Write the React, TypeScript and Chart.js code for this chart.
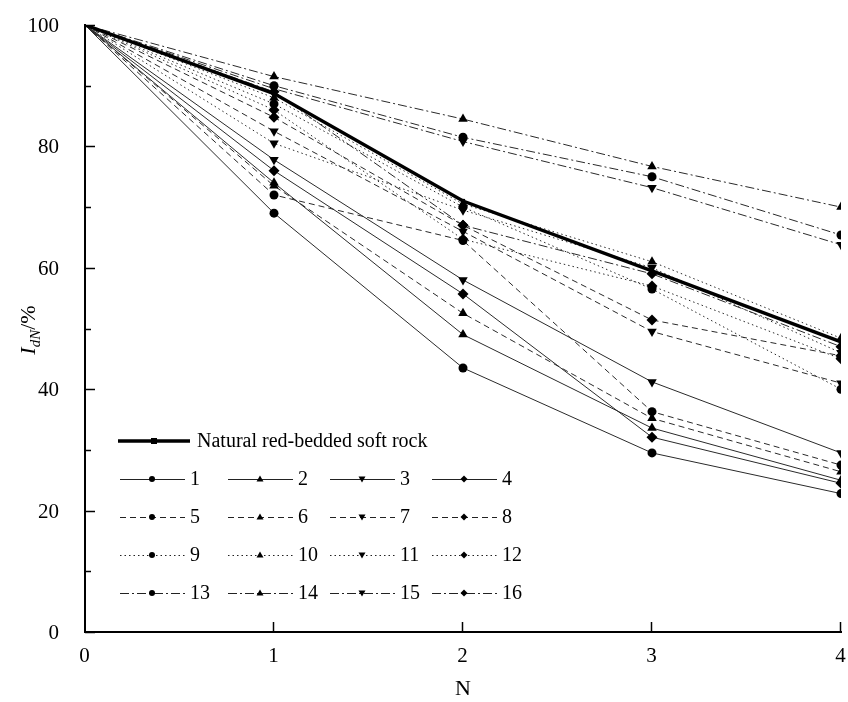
import React, { useEffect, useRef } from "react";
import { Chart, registerables } from "chart.js";
Chart.register(...registerables);

const cycles = [0, 1, 2, 3, 4];
const natural = [100, 88.7, 71, 59.5, 47.8];
const s1 = [100, 69, 43.5, 29.5, 22.8];
const s2 = [100, 74, 49, 33.6, 25];
const s3 = [100, 77.8, 58, 41.2, 29.5];
const s4 = [100, 76, 55.7, 32.1, 24.5];
const s5 = [100, 72, 64.5, 36.3, 27.5];
const s6 = [100, 73.5, 52.5, 35.2, 26.4];
const s7 = [100, 82.5, 66, 49.5, 41];
const s8 = [100, 84.8, 67, 51.4, 45.5];
const s9 = [100, 87, 70, 56.5, 40];
const s10 = [100, 88, 70.5, 61, 48.4];
const s11 = [100, 80.5, 69.5, 60, 46];
const s12 = [100, 86, 64.7, 57, 45];
const s13 = [100, 90, 81.5, 75, 65.4];
const s14 = [100, 91.5, 84.5, 76.7, 70];
const s15 = [100, 89.5, 80.8, 73.2, 63.8];
const s16 = [100, 89, 67, 59, 47];
const seriesValues = [s1, s2, s3, s4, s5, s6, s7, s8, s9, s10, s11, s12, s13, s14, s15, s16];
const seriesLabels = ["1", "2", "3", "4", "5", "6", "7", "8", "9", "10", "11", "12", "13", "14", "15", "16"];
const naturalLabel = "Natural red-bedded soft rock";
const yTickValues = [0, 20, 40, 60, 80, 100];
const yMinorValues = [10, 30, 50, 70, 90];
const xTickValues = [0, 1, 2, 3, 4];

const FONT = '"Liberation Serif", "DejaVu Serif", serif';
const dashes: number[][] = [[], [6, 4], [1.5, 3], [9, 3, 2, 3]];
const markers = ["circle", "up", "down", "diamond"];

function drawMarker(ctx: CanvasRenderingContext2D, kind: string, x: number, y: number, r: number) {
  ctx.beginPath();
  if (kind === "circle") {
    ctx.arc(x, y, r, 0, Math.PI * 2);
  } else if (kind === "up") {
    ctx.moveTo(x, y - r);
    ctx.lineTo(x + r, y + r * 0.7);
    ctx.lineTo(x - r, y + r * 0.7);
    ctx.closePath();
  } else if (kind === "down") {
    ctx.moveTo(x, y + r);
    ctx.lineTo(x + r, y - r * 0.7);
    ctx.lineTo(x - r, y - r * 0.7);
    ctx.closePath();
  } else if (kind === "diamond") {
    ctx.moveTo(x, y - r);
    ctx.lineTo(x + r, y);
    ctx.lineTo(x, y + r);
    ctx.lineTo(x - r, y);
    ctx.closePath();
  } else {
    ctx.rect(x - r, y - r, 2 * r, 2 * r);
  }
  ctx.fill();
}

const overlayPlugin = {
  id: "overlay",
  afterDraw(chart: any) {
    const ctx: CanvasRenderingContext2D = chart.ctx;
    const xs = chart.scales.x;
    const ys = chart.scales.y;
    const area = chart.chartArea;
    ctx.save();
    ctx.strokeStyle = "#000";
    ctx.lineWidth = 1.5;
    ctx.setLineDash([]);
    ctx.fillStyle = "#000";
    ctx.font = `21px ${FONT}`;
    // y ticks inward + labels
    ctx.textAlign = "right";
    ctx.textBaseline = "middle";
    yTickValues.forEach((v) => {
      const py = Math.round(ys.getPixelForValue(v)) + 0.5;
      ctx.beginPath();
      ctx.moveTo(area.left, py);
      ctx.lineTo(area.left + 10, py);
      ctx.stroke();
      ctx.fillText(String(v), area.left - 26, py + 1);
    });
    yMinorValues.forEach((v) => {
      const py = Math.round(ys.getPixelForValue(v)) + 0.5;
      ctx.beginPath();
      ctx.moveTo(area.left, py);
      ctx.lineTo(area.left + 6, py);
      ctx.stroke();
    });
    ctx.textAlign = "center";
    ctx.textBaseline = "top";
    xTickValues.forEach((v) => {
      const px = Math.round(xs.getPixelForValue(v)) - 0.5;
      if (v > 0) {
        ctx.beginPath();
        ctx.moveTo(px, area.bottom);
        ctx.lineTo(px, area.bottom - 10);
        ctx.stroke();
      }
      ctx.fillText(String(v), px, area.bottom + 14);
    });

    // legend
    ctx.textBaseline = "middle";
    ctx.textAlign = "left";
    ctx.font = `20px ${FONT}`;
    const ly = 441;
    ctx.strokeStyle = "#000";
    ctx.lineWidth = 3.5;
    ctx.beginPath();
    ctx.moveTo(118, ly);
    ctx.lineTo(190, ly);
    ctx.stroke();
    drawMarker(ctx, "square", 154, ly, 3);
    ctx.fillText(naturalLabel, 197, ly + 1);
    const colX = [120, 228, 330, 432];
    const rowY = [479, 517, 555, 593];
    for (let i = 0; i < 16; i++) {
      const g = Math.floor(i / 4);
      const c = i % 4;
      const x0 = colX[c];
      const y0 = rowY[g];
      ctx.strokeStyle = "#222";
      ctx.lineWidth = 1;
      ctx.setLineDash(dashes[g]);
      ctx.beginPath();
      ctx.moveTo(x0, y0 + 0.5);
      ctx.lineTo(x0 + 65, y0 + 0.5);
      ctx.stroke();
      ctx.setLineDash([]);
      drawMarker(ctx, markers[c], x0 + 32, y0, c === 0 ? 3 : 3.5);
      ctx.fillText(seriesLabels[i], x0 + 70, y0 + 1);
    }

    // y title
    ctx.save();
    ctx.translate(35, 330);
    ctx.rotate(-Math.PI / 2);
    ctx.textBaseline = "alphabetic";
    const p1 = "I", p2 = "dN", p3 = "/%";
    ctx.font = `italic 22px ${FONT}`;
    const w1 = ctx.measureText(p1).width;
    ctx.font = `italic 15px ${FONT}`;
    const w2 = ctx.measureText(p2).width;
    ctx.font = `22px ${FONT}`;
    const w3 = ctx.measureText(p3).width;
    let sx = -(w1 + w2 + w3) / 2;
    ctx.font = `italic 22px ${FONT}`;
    ctx.fillText(p1, sx, 0);
    sx += w1;
    ctx.font = `italic 15px ${FONT}`;
    ctx.fillText(p2, sx, 5);
    sx += w2;
    ctx.font = `22px ${FONT}`;
    ctx.fillText(p3, sx, 0);
    ctx.restore();

    // x title
    ctx.textAlign = "center";
    ctx.textBaseline = "middle";
    ctx.font = `22px ${FONT}`;
    ctx.fillText("N", (area.left + area.right) / 2, 689);
    ctx.restore();
  },
};

export default function App() {
  const ref = useRef<HTMLCanvasElement | null>(null);
  useEffect(() => {
    document.body.style.margin = "0";
    const canvas = ref.current!;
    const toPts = (vals: number[]) => cycles.map((x, i) => ({ x, y: vals[i] }));
    const datasets: any[] = [
      {
        label: naturalLabel,
        data: toPts(natural),
        borderColor: "#000",
        backgroundColor: "#000",
        borderWidth: 3.5,
        pointStyle: "rect",
        pointRadius: [0, 3, 3, 3, 3],
        pointBorderWidth: 0,
      },
    ];
    seriesValues.forEach((vals, i) => {
      const g = Math.floor(i / 4);
      const c = i % 4;
      const style = c === 0 ? "circle" : c === 3 ? "rectRot" : "triangle";
      const r = c === 0 ? 4.5 : 5.5;
      datasets.push({
        label: seriesLabels[i],
        data: toPts(vals),
        borderColor: "#2a2a2a",
        backgroundColor: "#000",
        borderWidth: 1,
        borderDash: dashes[g],
        pointStyle: style,
        rotation: c === 2 ? 180 : 0,
        pointRadius: [0, r, r, r, r],
        pointBorderWidth: 0,
      });
    });
    const chart = new Chart(canvas, {
      type: "line",
      data: { datasets },
      options: {
        responsive: false,
        animation: false,
        devicePixelRatio: 1,
        layout: { padding: { top: 25, right: 7, left: 0, bottom: 0 } },
        plugins: { legend: { display: false }, tooltip: { enabled: false } },
        elements: { line: { tension: 0 } },
        scales: {
          x: {
            type: "linear",
            min: 0,
            max: 4,
            ticks: { display: false, stepSize: 1, padding: 0 },
            grid: { display: false, drawTicks: false },
            border: { display: true, color: "#000", width: 2 },
            afterFit: (s: any) => {
              s.height = 70;
            },
          },
          y: {
            min: 0,
            max: 100,
            ticks: { display: false, stepSize: 20, padding: 0 },
            grid: { display: false, drawTicks: false },
            border: { display: true, color: "#000", width: 2 },
            afterFit: (s: any) => {
              s.width = 85;
            },
          },
        },
      },
      plugins: [overlayPlugin],
    });
    return () => chart.destroy();
  }, []);
  return (
    <div style={{ width: 848, height: 702, background: "#fff" }}>
      <canvas ref={ref} width={848} height={702} style={{ display: "block" }} />
    </div>
  );
}
